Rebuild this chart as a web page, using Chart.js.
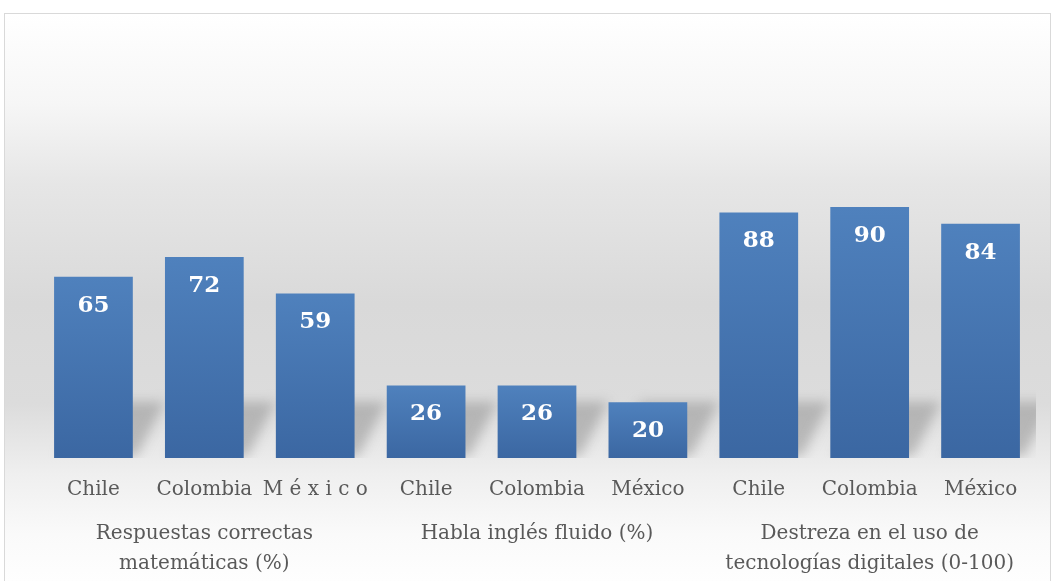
<!DOCTYPE html>
<html lang="es">
<head>
    <meta charset="UTF-8">
    <title>Chile, Colombia y México</title>
    <script src="https://cdn.jsdelivr.net/npm/chart.js@4.4.0/dist/chart.umd.min.js"></script>
    <style>
        html, body { margin: 0; padding: 0; background: #fff; }
        #wrap {
            position: absolute; left: 4px; top: 13px; width: 1045px; height: 580px;
            border: 1px solid #d9d9d9; border-bottom: none;
            background: linear-gradient(to bottom, #ffffff 0px, #f6f6f6 90px, #e6e6e6 170px,
                #d9d9d9 290px, #dcdcdc 390px, #efefef 460px, #fafafa 520px, #ffffff 580px);
        }
        #graph { position: absolute; left: 0; top: 0; }
    </style>
</head>
<body>
    <div id="wrap"></div>
    <canvas id="graph" width="1053" height="581"></canvas>
    <script>
        // categorias y valores
        const paises = ['Chile', 'Colombia', 'M é x i c o', 'Chile', 'Colombia', 'México', 'Chile', 'Colombia', 'México'];
        const grupos = [
            ['Respuestas correctas', 'matemáticas (%)'],
            'Habla inglés fluido (%)',
            ['Destreza en el uso de', 'tecnologías digitales (0-100)']
        ];
        const valores = [65, 72, 59, 26, 26, 20, 88, 90, 84];

        const fuente = '"DejaVu Serif", serif';

        // sombra en perspectiva detras de cada barra
        const sombra = {
            id: 'sombra',
            beforeDatasetsDraw(chart) {
                const ctx = chart.ctx, a = chart.chartArea;
                ctx.save();
                ctx.beginPath();
                ctx.rect(a.left, a.top, a.right - a.left, a.bottom - a.top);
                ctx.clip();
                ctx.filter = 'blur(6px)';
                ctx.fillStyle = 'rgba(140,140,140,0.5)';
                chart.getDatasetMeta(0).data.forEach(b => {
                    const l = b.x - b.width / 2, r = b.x + b.width / 2, base = b.base;
                    ctx.beginPath();
                    ctx.moveTo(l + 5, base - 2);
                    ctx.lineTo(r + 4, base - 2);
                    ctx.lineTo(r + 32, base - 56);
                    ctx.lineTo(l + 32, base - 56);
                    ctx.closePath();
                    ctx.fill();
                });
                ctx.restore();
            }
        };

        // etiquetas blancas dentro de las barras
        const etiquetas = {
            id: 'etiquetas',
            afterDatasetsDraw(chart) {
                const ctx = chart.ctx;
                ctx.save();
                ctx.font = 'bold 23px ' + fuente;
                ctx.fillStyle = '#ffffff';
                ctx.textAlign = 'center';
                ctx.textBaseline = 'middle';
                chart.getDatasetMeta(0).data.forEach((b, i) => {
                    ctx.fillText(valores[i], b.x, b.y + 29);
                });
                ctx.restore();
            }
        };

        const ctx = document.getElementById('graph').getContext('2d');
        const myChart = new Chart(ctx, {
            type: 'bar',
            data: {
                labels: paises,
                datasets: [{
                    data: valores,
                    backgroundColor: c => {
                        const ch = c.chart;
                        if (!ch.chartArea || c.parsed == null) return '#4674b0';
                        const y = ch.scales.y;
                        const top = y.getPixelForValue(c.parsed.y), bot = y.getPixelForValue(0);
                        const g = ch.ctx.createLinearGradient(0, top, 0, bot);
                        g.addColorStop(0, '#4f81bd');
                        g.addColorStop(1, '#3b67a2');
                        return g;
                    },
                    borderWidth: 0,
                    barPercentage: 0.71,
                    categoryPercentage: 1
                }]
            },
            options: {
                responsive: false,
                animation: false,
                events: [],
                layout: { padding: { left: 38, right: 17, top: 179, bottom: 0 } },
                plugins: { legend: { display: false }, tooltip: { enabled: false } },
                scales: {
                    y: { display: false, min: 0, max: 100 },
                    x: {
                        grid: { display: false }, border: { display: false },
                        ticks: { color: '#595959', font: { family: fuente, size: 20 }, padding: 12, maxRotation: 0, autoSkip: false },
                        afterFit: s => { s.height = 50; }
                    },
                    x2: {
                        type: 'category', position: 'bottom', labels: grupos,
                        grid: { display: false }, border: { display: false },
                        ticks: { color: '#595959', font: { family: fuente, size: 20, lineHeight: 1.5 }, padding: 3, maxRotation: 0 },
                        afterFit: s => { s.height = 73; }
                    }
                }
            },
            plugins: [sombra, etiquetas]
        });
    </script>
</body>
</html>
